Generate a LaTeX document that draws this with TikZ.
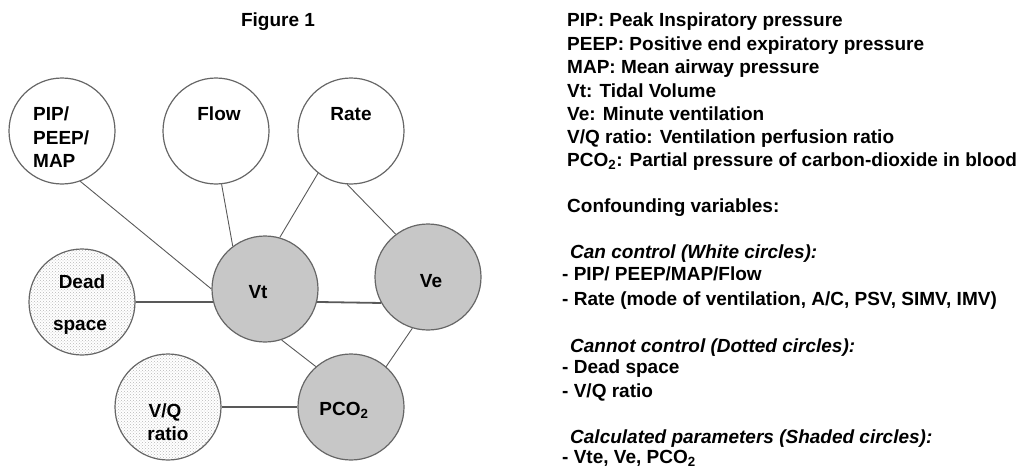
\documentclass[tikz,border=0pt]{standalone}
\usepackage{fontspec}
\setmainfont{Liberation Sans}
\usetikzlibrary{patterns}

\tikzset{
  var/.style={circle,draw=black!60,line width=1.2pt,minimum size=106pt,inner sep=0pt},
  shaded/.style={var,fill=black!22},
  dotcirc/.style={var,pattern=crosshatch dots,pattern color=black!28},
  txt/.style={inner sep=0pt,anchor=base},
  keyline/.style={inner sep=0pt,anchor=base west},
  link/.style={draw=black!65,line width=0.9pt},
  strong/.style={link,line width=1.8pt}
}

\begin{document}
\begin{tikzpicture}[x=1pt,y=-1pt,font=\fontsize{19}{23}\selectfont\bfseries]
  \useasboundingbox (0,0) rectangle (1023,471);
  \node[txt] (ttl) at (278,26) {Figure 1};
  % circles
  \node[var] (pip) at (62,131) {};
  \node[var] (flow) at (216,131) {};
  \node[var] (rate) at (351,131) {};
  \node[shaded] (vt) at (265,289) {};
  \node[shaded] (ve) at (428,277) {};
  \node[dotcirc] (dead) at (82,302) {};
  \node[dotcirc] (vq) at (168,407) {};
  \node[shaded] (pco) at (351,407) {};
  % circle texts
  \node[keyline] (pip1) at (33,120) {PIP/};
  \node[keyline] (pip2) at (33,144) {PEEP/};
  \node[keyline] (pip3) at (33,167) {MAP};
  \node[txt] (flowt) at (219,120) {Flow};
  \node[txt] (ratet) at (351,120) {Rate};
  \node[txt] (vtt) at (258,298) {Vt};
  \node[txt] (vet) at (431,287) {Ve};
  \node[txt] (dead1) at (82,288) {Dead};
  \node[txt] (dead2) at (80,330) {space};
  \node[txt] (vq1) at (165,417) {V/Q};
  \node[txt] (vq2) at (168,440) {ratio};
  \node[txt] (pcot) at (344,415) {PCO\textsubscript{2}};
  % connectors
  \draw[link] (pip.290)--(vt.180);
  \draw[link] (flow.276)--(vt.127);
  \draw[link] (rate.232)--(vt.74);
  \draw[link] (rate.266)--(ve.127);
  \draw[strong] (dead)--(vt.194);
  \draw[strong] (vt.346)--(ve.209);
  \draw[link] (vt.288)--(pco.131);
  \draw[link] (ve.253)--(pco.49);
  \draw[strong] (vq)--(pco);
  % key
  \node[keyline] (k1) at (567,27) {PIP: Peak Inspiratory pressure};
  \node[keyline] (k2) at (567,50) {PEEP: Positive end expiratory pressure};
  \node[keyline] (k3) at (567,73) {MAP: Mean airway pressure};
  \node[keyline] (k4) at (567,97) {Vt: Tidal Volume};
  \node[keyline] (k5) at (567,120) {Ve: Minute ventilation};
  \node[keyline] (k6) at (567,143) {V/Q ratio: Ventilation perfusion ratio};
  \node[keyline] (k7) at (567,166) {PCO\textsubscript{2}: Partial pressure of carbon-dioxide in blood};
  \node[keyline] (k8) at (567,212) {Confounding variables:};
  \node[keyline] (k9) at (570,258) {\itshape Can control (White circles):};
  \node[keyline] (k10) at (562,280) {- PIP/ PEEP/MAP/Flow};
  \node[keyline] (k11) at (562,305) {- Rate (mode of ventilation, A/C, PSV, SIMV, IMV)};
  \node[keyline] (k12) at (570,352) {\itshape Cannot control (Dotted circles):};
  \node[keyline] (k13) at (562,373) {- Dead space};
  \node[keyline] (k14) at (562,397) {- V/Q ratio};
  \node[keyline] (k15) at (570,443) {\itshape Calculated parameters (Shaded circles):};
  \node[keyline] (k16) at (562,463) {- Vte, Ve, PCO\textsubscript{2}};
\end{tikzpicture}
\end{document}
